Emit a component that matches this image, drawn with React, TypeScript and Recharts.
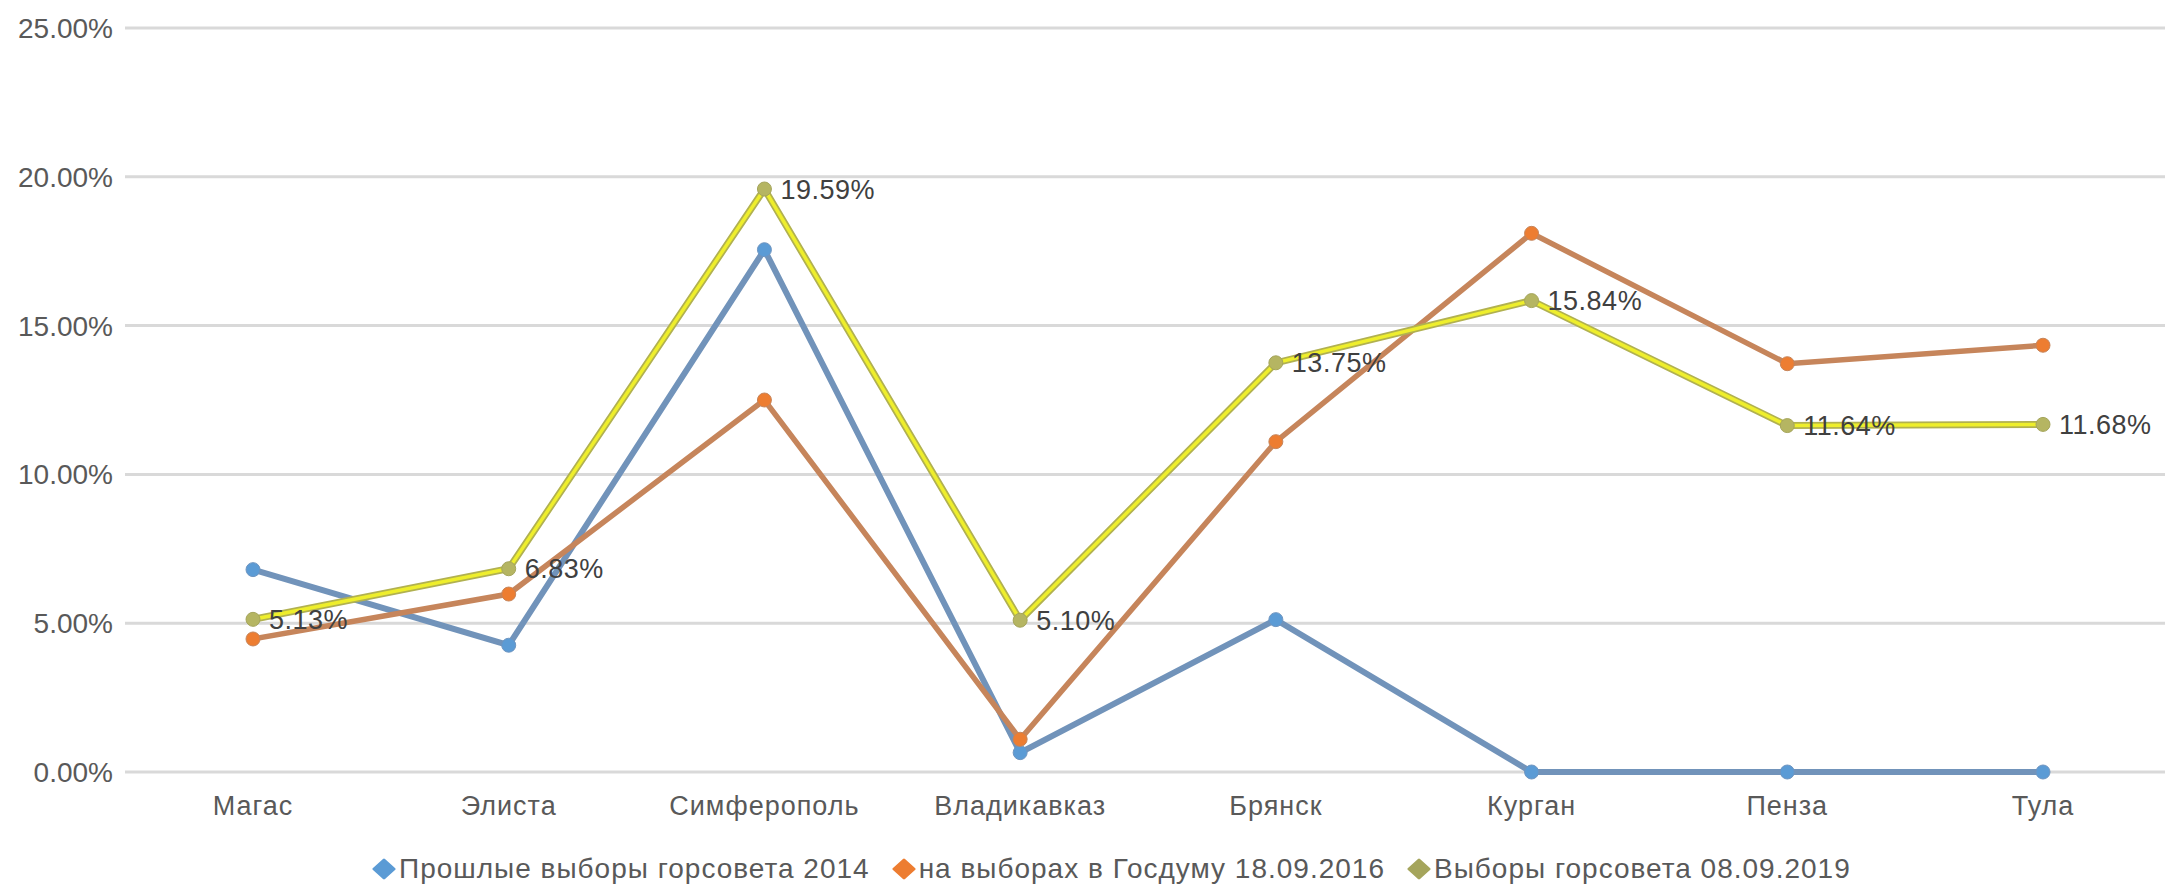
import React from "react";
import { LineChart, Line, XAxis, YAxis, CartesianGrid, LabelList } from "recharts";

const cities = ["Магас", "Элиста", "Симферополь", "Владикавказ", "Брянск", "Курган", "Пенза", "Тула"];
const council2014 = [6.8, 4.26, 17.55, 0.65, 5.12, 0, 0, 0];
const duma2016 = [4.47, 5.98, 12.5, 1.1, 11.1, 18.1, 13.72, 14.34];
const council2019 = [5.13, 6.83, 19.59, 5.1, 13.75, 15.84, 11.64, 11.68];
const yTicks = [0, 5, 10, 15, 20, 25];

const seriesNames = [
  "Прошлые выборы горсовета 2014",
  "на выборах в Госдуму 18.09.2016",
  "Выборы горсовета 08.09.2019",
];
const markerColors = ["#5b9bd5", "#ed7d31", "#a5a55c"];

const data = cities.map((city, i) => ({
  city,
  a: council2014[i],
  b: duma2016[i],
  c: council2019[i],
}));

const fmt = (v: number) => v.toFixed(2) + "%";
const font = "'Liberation Sans', Arial, sans-serif";

// legend drawn outside the chart so it doesn't eat plot height
function LegendBox() {
  return (
    <div
      style={{
        position: "absolute",
        left: 372,
        top: 853,
        display: "flex",
        gap: 22,
        fontFamily: font,
        fontSize: 28,
        letterSpacing: 1,
        color: "#595959",
        whiteSpace: "nowrap",
      }}
    >
      {seriesNames.map((n, i) => (
        <span key={n} style={{ display: "flex", alignItems: "center" }}>
          <svg width={24} height={22} style={{ marginRight: 3 }}>
            <polygon
              points="12,2 22,11 12,20 2,11"
              fill={markerColors[i]}
              stroke={markerColors[i]}
              strokeWidth={3}
              strokeLinejoin="round"
            />
          </svg>
          {n}
        </span>
      ))}
    </div>
  );
}

export default function App() {
  return (
    <div style={{ width: 2165, height: 891, overflow: "hidden", position: "relative", background: "#fff" }}>
      <style>{"body{margin:0}"}</style>
      <LineChart width={2180} height={891} data={data} margin={{ top: 28, right: 9, left: 0, bottom: 59 }}>
        <CartesianGrid vertical={false} stroke="#d9d9d9" strokeWidth={3} />
        <XAxis
          dataKey="city"
          axisLine={false}
          tickLine={false}
          tickSize={0}
          tickMargin={24}
          height={60}
          padding={{ left: 128, right: 128 }}
          tick={{ fill: "#595959", fontSize: 27, fontFamily: font, letterSpacing: 1 }}
        />
        <YAxis
          domain={[0, 25]}
          ticks={yTicks}
          tickFormatter={fmt}
          axisLine={false}
          tickLine={false}
          tickSize={0}
          tickMargin={12}
          width={125}
          tick={{ fill: "#595959", fontSize: 28, fontFamily: font }}
        />
        <Line
          dataKey="a"
          name={seriesNames[0]}
          stroke="#7193ba"
          strokeWidth={6}
          dot={{ r: 7, fill: "#5b9bd5", stroke: "#6f95c0", strokeWidth: 1 }}
          isAnimationActive={false}
        />
        <Line
          dataKey="b"
          name={seriesNames[1]}
          stroke="#c6855b"
          strokeWidth={5.5}
          dot={{ r: 7, fill: "#ed7d31", stroke: "#c6855b", strokeWidth: 1 }}
          isAnimationActive={false}
        />
        <Line
          dataKey="c"
          legendType="none"
          stroke="#b1b150"
          strokeWidth={7}
          dot={false}
          isAnimationActive={false}
        />
        <Line
          dataKey="c"
          name={seriesNames[2]}
          stroke="#eeee2c"
          strokeWidth={3.5}
          dot={{ r: 7, fill: "#b5b562", stroke: "#a5a55c", strokeWidth: 1 }}
          isAnimationActive={false}
        >
          <LabelList
            dataKey="c"
            position="right"
            offset={16}
            formatter={(v: any) => fmt(Number(v))}
            style={{ fill: "#404040", fontSize: 27, fontFamily: font, letterSpacing: 0.5 }}
          />
        </Line>
      </LineChart>
      <LegendBox />
    </div>
  );
}
